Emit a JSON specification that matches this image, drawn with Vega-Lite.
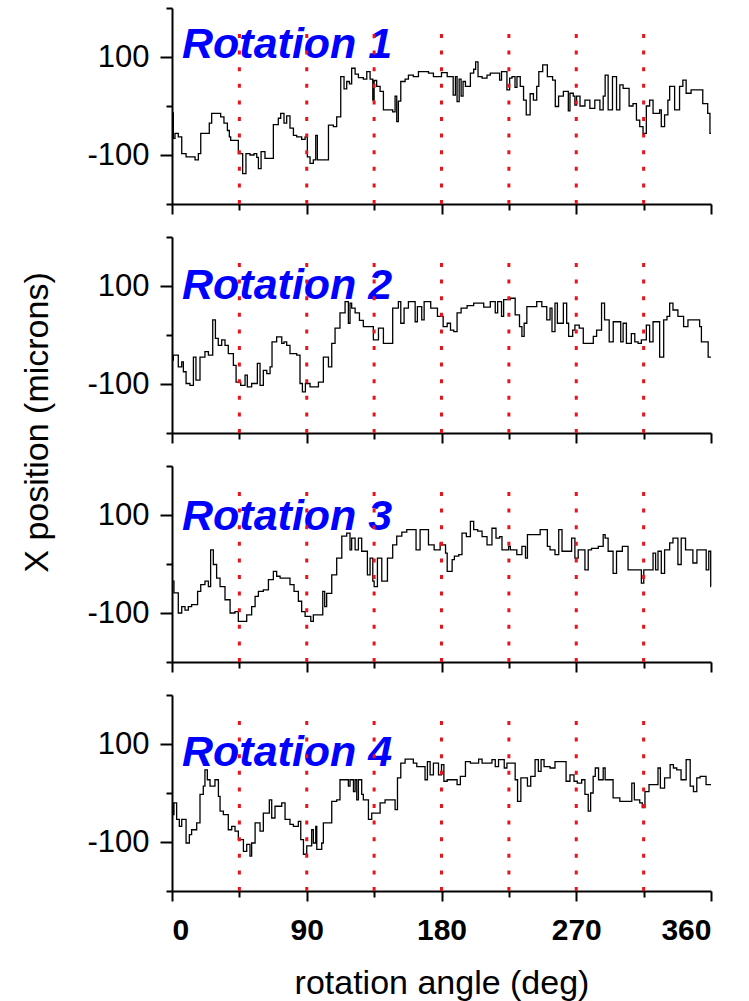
{
"$schema": "https://vega.github.io/schema/vega-lite/v6.json",
"padding": {"left": 19, "top": 7, "right": 5, "bottom": 5},
"spacing": 33,
"bounds": "flush",
"config": {"view": {"stroke": null}, "axis": {"grid": false, "domainColor": "#000", "domainWidth": 2, "tickColor": "#000", "tickWidth": 2, "labelColor": "#000", "titleColor": "#000"}},
"datasets": {
"guides": [{"g":45},{"g":90},{"g":135},{"g":180},{"g":225},{"g":270},{"g":315}],
"trace": [
{"r":1,"a":0,"v":-14},{"r":1,"a":0.9,"v":-66},{"r":1,"a":2,"v":-56},{"r":1,"a":4.2,"v":-63},{"r":1,"a":6.5,"v":-97},{"r":1,"a":9.4,"v":-104},{"r":1,"a":15.4,"v":-110},{"r":1,"a":17.6,"v":-97},{"r":1,"a":19.2,"v":-56},{"r":1,"a":24.9,"v":-35},{"r":1,"a":26.5,"v":-15},{"r":1,"a":32.5,"v":-22},{"r":1,"a":34.7,"v":-35},{"r":1,"a":37,"v":-50},{"r":1,"a":38.3,"v":-63},{"r":1,"a":39.2,"v":-70},{"r":1,"a":44.3,"v":-97},{"r":1,"a":47.2,"v":-138},{"r":1,"a":49.4,"v":-97},{"r":1,"a":52.1,"v":-100},{"r":1,"a":54.8,"v":-97},{"r":1,"a":56.6,"v":-105},{"r":1,"a":57.7,"v":-128},{"r":1,"a":59.5,"v":-93},{"r":1,"a":62.1,"v":-107},{"r":1,"a":67.7,"v":-38},{"r":1,"a":71,"v":-25},{"r":1,"a":72.6,"v":-15},{"r":1,"a":74.8,"v":-35},{"r":1,"a":76.6,"v":-20},{"r":1,"a":78.8,"v":-45},{"r":1,"a":81.1,"v":-60},{"r":1,"a":83.3,"v":-63},{"r":1,"a":86.6,"v":-68},{"r":1,"a":88.9,"v":-63},{"r":1,"a":90.4,"v":-104},{"r":1,"a":92.2,"v":-117},{"r":1,"a":94.4,"v":-110},{"r":1,"a":96,"v":-60},{"r":1,"a":97.1,"v":-110},{"r":1,"a":104.5,"v":-39},{"r":1,"a":107.8,"v":-42},{"r":1,"a":110,"v":-22},{"r":1,"a":112.7,"v":60},{"r":1,"a":114.9,"v":35},{"r":1,"a":116.7,"v":50},{"r":1,"a":118.5,"v":45},{"r":1,"a":120,"v":77},{"r":1,"a":122.3,"v":65},{"r":1,"a":124.5,"v":58},{"r":1,"a":127.8,"v":55},{"r":1,"a":130.1,"v":70},{"r":1,"a":132.3,"v":55},{"r":1,"a":134.1,"v":12},{"r":1,"a":135,"v":52},{"r":1,"a":136.7,"v":40},{"r":1,"a":139,"v":30},{"r":1,"a":141.2,"v":-8},{"r":1,"a":147.4,"v":-12},{"r":1,"a":149,"v":20},{"r":1,"a":150.1,"v":-32},{"r":1,"a":151.2,"v":10},{"r":1,"a":152.8,"v":50},{"r":1,"a":155.7,"v":55},{"r":1,"a":157.9,"v":63},{"r":1,"a":161.2,"v":60},{"r":1,"a":164.6,"v":70},{"r":1,"a":171.3,"v":67},{"r":1,"a":174.6,"v":60},
{"r":1,"a":180,"v":68},{"r":1,"a":183.8,"v":60},{"r":1,"a":187.8,"v":22},{"r":1,"a":189.3,"v":60},{"r":1,"a":190.4,"v":9},{"r":1,"a":191.8,"v":55},{"r":1,"a":193.1,"v":20},{"r":1,"a":194.4,"v":50},{"r":1,"a":196,"v":40},{"r":1,"a":199.3,"v":67},{"r":1,"a":201.5,"v":75},{"r":1,"a":202.8,"v":90},{"r":1,"a":204.4,"v":60},{"r":1,"a":207.1,"v":57},{"r":1,"a":210.4,"v":63},{"r":1,"a":212.6,"v":67},{"r":1,"a":218.8,"v":53},{"r":1,"a":220.1,"v":70},{"r":1,"a":223.7,"v":33},{"r":1,"a":225.5,"v":57},{"r":1,"a":227.1,"v":60},{"r":1,"a":229.1,"v":38},{"r":1,"a":230.4,"v":60},{"r":1,"a":232.6,"v":40},{"r":1,"a":234.8,"v":12},{"r":1,"a":236.6,"v":-18},{"r":1,"a":239.2,"v":25},{"r":1,"a":241.4,"v":12},{"r":1,"a":243.6,"v":40},{"r":1,"a":245,"v":70},{"r":1,"a":247.6,"v":84},{"r":1,"a":250.7,"v":60},{"r":1,"a":254.2,"v":53},{"r":1,"a":256,"v":-1},{"r":1,"a":258.2,"v":20},{"r":1,"a":261.4,"v":30},{"r":1,"a":264.7,"v":-10},{"r":1,"a":265.8,"v":26},{"r":1,"a":268,"v":20},{"r":1,"a":269.1,"v":2},{"r":1,"a":270.2,"v":20},{"r":1,"a":272.5,"v":0},{"r":1,"a":275.8,"v":12},{"r":1,"a":279.1,"v":-5},{"r":1,"a":282.4,"v":12},{"r":1,"a":285.8,"v":-8},{"r":1,"a":288,"v":20},{"r":1,"a":289.3,"v":63},{"r":1,"a":291.3,"v":-8},{"r":1,"a":294.2,"v":60},{"r":1,"a":296.9,"v":-8},{"r":1,"a":299.1,"v":43},{"r":1,"a":301.3,"v":36},{"r":1,"a":305.3,"v":0},{"r":1,"a":307.9,"v":5},{"r":1,"a":310.2,"v":-29},{"r":1,"a":312.4,"v":-42},{"r":1,"a":314.6,"v":-56},{"r":1,"a":316.8,"v":0},{"r":1,"a":319,"v":12},{"r":1,"a":321.3,"v":-15},{"r":1,"a":325.7,"v":-8},{"r":1,"a":326.8,"v":-42},{"r":1,"a":329,"v":-18},{"r":1,"a":331.2,"v":12},{"r":1,"a":332.4,"v":40},{"r":1,"a":335.7,"v":-8},{"r":1,"a":339,"v":40},{"r":1,"a":341.2,"v":53},{"r":1,"a":343.4,"v":26},{"r":1,"a":346.7,"v":33},{"r":1,"a":354.5,"v":5},{"r":1,"a":357.8,"v":-15},{"r":1,"a":359.3,"v":-56},{"r":1,"a":360,"v":-56},
{"r":2,"a":0,"v":-51},{"r":2,"a":0.9,"v":-41},{"r":2,"a":4.2,"v":-65},{"r":2,"a":6.5,"v":-55},{"r":2,"a":7.6,"v":-75},{"r":2,"a":9.4,"v":-99},{"r":2,"a":12,"v":-103},{"r":2,"a":14.3,"v":-45},{"r":2,"a":16,"v":-92},{"r":2,"a":18.7,"v":-45},{"r":2,"a":22,"v":-34},{"r":2,"a":24.3,"v":-41},{"r":2,"a":27.2,"v":31},{"r":2,"a":29,"v":-7},{"r":2,"a":30.9,"v":-21},{"r":2,"a":33.2,"v":-10},{"r":2,"a":35.4,"v":-21},{"r":2,"a":37.6,"v":-38},{"r":2,"a":41,"v":-62},{"r":2,"a":42.8,"v":-96},{"r":2,"a":45.9,"v":-103},{"r":2,"a":48.8,"v":-82},{"r":2,"a":50.3,"v":-106},{"r":2,"a":53.2,"v":-99},{"r":2,"a":57,"v":-58},{"r":2,"a":58.8,"v":-103},{"r":2,"a":61,"v":-72},{"r":2,"a":63.3,"v":-79},{"r":2,"a":65.5,"v":-65},{"r":2,"a":66.8,"v":-14},{"r":2,"a":69.9,"v":-4},{"r":2,"a":73.3,"v":-17},{"r":2,"a":74.8,"v":-14},{"r":2,"a":76.6,"v":-21},{"r":2,"a":78.8,"v":-38},{"r":2,"a":83.3,"v":-41},{"r":2,"a":85.5,"v":-99},{"r":2,"a":87.1,"v":-116},{"r":2,"a":89.1,"v":-99},{"r":2,"a":92.2,"v":-106},{"r":2,"a":97.8,"v":-96},{"r":2,"a":101.1,"v":-45},{"r":2,"a":104.5,"v":-65},{"r":2,"a":106.7,"v":-17},{"r":2,"a":108.9,"v":14},{"r":2,"a":112.2,"v":45},{"r":2,"a":115.6,"v":68},{"r":2,"a":117.8,"v":24},{"r":2,"a":118.9,"v":65},{"r":2,"a":120,"v":55},{"r":2,"a":122.3,"v":45},{"r":2,"a":125.2,"v":30},{"r":2,"a":127.8,"v":17},{"r":2,"a":134.5,"v":-10},{"r":2,"a":137.9,"v":14},{"r":2,"a":141.2,"v":-17},{"r":2,"a":147.4,"v":55},{"r":2,"a":151.2,"v":68},{"r":2,"a":152.8,"v":24},{"r":2,"a":155,"v":55},{"r":2,"a":157.9,"v":68},{"r":2,"a":162.4,"v":27},{"r":2,"a":163.9,"v":58},{"r":2,"a":166.8,"v":31},{"r":2,"a":168.4,"v":68},{"r":2,"a":172.8,"v":55},{"r":2,"a":177.3,"v":38},
{"r":2,"a":180,"v":38},{"r":2,"a":181.1,"v":17},{"r":2,"a":183.8,"v":24},{"r":2,"a":186,"v":10},{"r":2,"a":188.2,"v":7},{"r":2,"a":190.4,"v":45},{"r":2,"a":193.1,"v":55},{"r":2,"a":197.1,"v":60},{"r":2,"a":201.5,"v":65},{"r":2,"a":208.2,"v":57},{"r":2,"a":212.6,"v":68},{"r":2,"a":215.9,"v":45},{"r":2,"a":217.5,"v":68},{"r":2,"a":220.1,"v":38},{"r":2,"a":221.5,"v":72},{"r":2,"a":225.9,"v":75},{"r":2,"a":229.2,"v":41},{"r":2,"a":232.1,"v":17},{"r":2,"a":233.7,"v":-3},{"r":2,"a":235.2,"v":24},{"r":2,"a":237,"v":58},{"r":2,"a":243.6,"v":68},{"r":2,"a":247,"v":58},{"r":2,"a":250.3,"v":31},{"r":2,"a":252.5,"v":55},{"r":2,"a":253.8,"v":7},{"r":2,"a":255.8,"v":65},{"r":2,"a":257.4,"v":24},{"r":2,"a":261.4,"v":65},{"r":2,"a":263.6,"v":24},{"r":2,"a":264.9,"v":-3},{"r":2,"a":267.6,"v":10},{"r":2,"a":269.1,"v":20},{"r":2,"a":272,"v":14},{"r":2,"a":274.7,"v":-17},{"r":2,"a":281.4,"v":-3},{"r":2,"a":283.6,"v":10},{"r":2,"a":286.9,"v":65},{"r":2,"a":288.9,"v":31},{"r":2,"a":292,"v":-14},{"r":2,"a":294.7,"v":27},{"r":2,"a":299.7,"v":-14},{"r":2,"a":301.3,"v":24},{"r":2,"a":303.5,"v":-17},{"r":2,"a":306.8,"v":3},{"r":2,"a":309.1,"v":-14},{"r":2,"a":311.3,"v":-17},{"r":2,"a":313.5,"v":-10},{"r":2,"a":316.8,"v":20},{"r":2,"a":319,"v":-14},{"r":2,"a":321.3,"v":27},{"r":2,"a":325.7,"v":-45},{"r":2,"a":328.4,"v":31},{"r":2,"a":330.6,"v":38},{"r":2,"a":332.4,"v":65},{"r":2,"a":334.6,"v":51},{"r":2,"a":337.9,"v":38},{"r":2,"a":341.7,"v":17},{"r":2,"a":344.6,"v":31},{"r":2,"a":352.4,"v":17},{"r":2,"a":353.6,"v":-14},{"r":2,"a":358.1,"v":-45},{"r":2,"a":360,"v":-45},
{"r":3,"a":0,"v":-35},{"r":3,"a":1.3,"v":-59},{"r":3,"a":4.2,"v":-100},{"r":3,"a":6.5,"v":-87},{"r":3,"a":8.7,"v":-94},{"r":3,"a":10.9,"v":-87},{"r":3,"a":13.1,"v":-83},{"r":3,"a":17.1,"v":-56},{"r":3,"a":19.2,"v":-42},{"r":3,"a":22,"v":-35},{"r":3,"a":24.3,"v":-46},{"r":3,"a":25.8,"v":29},{"r":3,"a":27.6,"v":-1},{"r":3,"a":29.8,"v":-29},{"r":3,"a":32.1,"v":-46},{"r":3,"a":35.4,"v":-73},{"r":3,"a":38.8,"v":-100},{"r":3,"a":42.1,"v":-97},{"r":3,"a":44.3,"v":-117},{"r":3,"a":49.9,"v":-104},{"r":3,"a":53.2,"v":-87},{"r":3,"a":55.5,"v":-66},{"r":3,"a":57.7,"v":-56},{"r":3,"a":61,"v":-53},{"r":3,"a":64.4,"v":-32},{"r":3,"a":67.7,"v":-15},{"r":3,"a":69.9,"v":-25},{"r":3,"a":72.2,"v":-29},{"r":3,"a":78.8,"v":-42},{"r":3,"a":81.5,"v":-56},{"r":3,"a":84.4,"v":-76},{"r":3,"a":86.6,"v":-97},{"r":3,"a":88.9,"v":-107},{"r":3,"a":92.7,"v":-117},{"r":3,"a":94.4,"v":-104},{"r":3,"a":100.7,"v":-56},{"r":3,"a":102,"v":-87},{"r":3,"a":103.3,"v":-60},{"r":3,"a":106.7,"v":-22},{"r":3,"a":110,"v":12},{"r":3,"a":113.4,"v":57},{"r":3,"a":116.7,"v":63},{"r":3,"a":118.9,"v":29},{"r":3,"a":120,"v":53},{"r":3,"a":122.3,"v":29},{"r":3,"a":124.5,"v":53},{"r":3,"a":126.7,"v":26},{"r":3,"a":130.5,"v":-22},{"r":3,"a":132.3,"v":12},{"r":3,"a":134.1,"v":-35},{"r":3,"a":135,"v":-46},{"r":3,"a":137.2,"v":12},{"r":3,"a":140.1,"v":-35},{"r":3,"a":143.9,"v":12},{"r":3,"a":147.4,"v":39},{"r":3,"a":150.1,"v":57},{"r":3,"a":153.5,"v":65},{"r":3,"a":156.8,"v":70},{"r":3,"a":163,"v":29},{"r":3,"a":165.7,"v":70},{"r":3,"a":171.3,"v":39},{"r":3,"a":175.1,"v":29},{"r":3,"a":179.1,"v":43},
{"r":3,"a":180,"v":39},{"r":3,"a":182.7,"v":22},{"r":3,"a":183.8,"v":-15},{"r":3,"a":187.1,"v":9},{"r":3,"a":188.6,"v":16},{"r":3,"a":191.5,"v":19},{"r":3,"a":193.7,"v":63},{"r":3,"a":196.6,"v":56},{"r":3,"a":199.3,"v":87},{"r":3,"a":201.5,"v":70},{"r":3,"a":204.2,"v":67},{"r":3,"a":207.1,"v":56},{"r":3,"a":210.4,"v":39},{"r":3,"a":213.7,"v":73},{"r":3,"a":216.4,"v":53},{"r":3,"a":218.8,"v":56},{"r":3,"a":220.4,"v":29},{"r":3,"a":224.8,"v":36},{"r":3,"a":226,"v":29},{"r":3,"a":230.3,"v":19},{"r":3,"a":233.7,"v":36},{"r":3,"a":236.1,"v":12},{"r":3,"a":237.4,"v":60},{"r":3,"a":245.9,"v":70},{"r":3,"a":250.7,"v":36},{"r":3,"a":252.5,"v":29},{"r":3,"a":255.8,"v":19},{"r":3,"a":258.3,"v":70},{"r":3,"a":260.5,"v":26},{"r":3,"a":266.9,"v":53},{"r":3,"a":269.1,"v":12},{"r":3,"a":271.3,"v":29},{"r":3,"a":275.8,"v":-12},{"r":3,"a":278,"v":29},{"r":3,"a":280.2,"v":32},{"r":3,"a":284.7,"v":36},{"r":3,"a":288,"v":60},{"r":3,"a":289.3,"v":53},{"r":3,"a":291.3,"v":26},{"r":3,"a":294.6,"v":-19},{"r":3,"a":296.9,"v":26},{"r":3,"a":300.8,"v":36},{"r":3,"a":304.6,"v":-12},{"r":3,"a":313.5,"v":-39},{"r":3,"a":315.1,"v":-12},{"r":3,"a":321.3,"v":22},{"r":3,"a":323,"v":-12},{"r":3,"a":324.6,"v":26},{"r":3,"a":326.8,"v":-19},{"r":3,"a":329,"v":29},{"r":3,"a":332.4,"v":43},{"r":3,"a":334.6,"v":53},{"r":3,"a":337.9,"v":-1},{"r":3,"a":340.1,"v":53},{"r":3,"a":343,"v":29},{"r":3,"a":347.9,"v":2},{"r":3,"a":350.6,"v":29},{"r":3,"a":356.8,"v":-12},{"r":3,"a":358.5,"v":26},{"r":3,"a":359.8,"v":-46},{"r":3,"a":360,"v":-46},
{"r":4,"a":0,"v":-20},{"r":4,"a":0.4,"v":-44},{"r":4,"a":1.3,"v":-20},{"r":4,"a":3.1,"v":-54},{"r":4,"a":4.9,"v":-68},{"r":4,"a":6.5,"v":-54},{"r":4,"a":9.4,"v":-102},{"r":4,"a":11.6,"v":-85},{"r":4,"a":13.1,"v":-75},{"r":4,"a":16.5,"v":-61},{"r":4,"a":18.7,"v":-3},{"r":4,"a":20.9,"v":14},{"r":4,"a":22,"v":47},{"r":4,"a":23.6,"v":27},{"r":4,"a":25.4,"v":14},{"r":4,"a":28.7,"v":27},{"r":4,"a":31,"v":-7},{"r":4,"a":32.1,"v":-37},{"r":4,"a":34.3,"v":-44},{"r":4,"a":37.6,"v":-75},{"r":4,"a":39.9,"v":-68},{"r":4,"a":42.1,"v":-78},{"r":4,"a":44.3,"v":-95},{"r":4,"a":47.7,"v":-119},{"r":4,"a":49.9,"v":-105},{"r":4,"a":52.1,"v":-129},{"r":4,"a":53.2,"v":-102},{"r":4,"a":55.5,"v":-61},{"r":4,"a":58.8,"v":-78},{"r":4,"a":61,"v":-41},{"r":4,"a":65,"v":-14},{"r":4,"a":66.6,"v":-51},{"r":4,"a":68.8,"v":-27},{"r":4,"a":73.3,"v":-20},{"r":4,"a":75.5,"v":-54},{"r":4,"a":78.8,"v":-64},{"r":4,"a":81.1,"v":-68},{"r":4,"a":84.4,"v":-58},{"r":4,"a":86,"v":-95},{"r":4,"a":87.8,"v":-125},{"r":4,"a":90,"v":-108},{"r":4,"a":93.3,"v":-75},{"r":4,"a":94.4,"v":-102},{"r":4,"a":96,"v":-68},{"r":4,"a":96.7,"v":-115},{"r":4,"a":100,"v":-102},{"r":4,"a":101.1,"v":-61},{"r":4,"a":106.7,"v":-17},{"r":4,"a":110,"v":-14},{"r":4,"a":112.2,"v":27},{"r":4,"a":117.8,"v":14},{"r":4,"a":118.9,"v":27},{"r":4,"a":121.2,"v":3},{"r":4,"a":122.3,"v":27},{"r":4,"a":123.4,"v":-14},{"r":4,"a":124.5,"v":27},{"r":4,"a":126.7,"v":-3},{"r":4,"a":127.8,"v":-14},{"r":4,"a":131.2,"v":-54},{"r":4,"a":133.4,"v":-41},{"r":4,"a":139,"v":-20},{"r":4,"a":142.3,"v":-14},{"r":4,"a":149,"v":-34},{"r":4,"a":150.6,"v":31},{"r":4,"a":152.8,"v":61},{"r":4,"a":155.7,"v":69},{"r":4,"a":161.2,"v":61},{"r":4,"a":163.5,"v":54},{"r":4,"a":169,"v":27},{"r":4,"a":170.6,"v":64},{"r":4,"a":172.4,"v":37},{"r":4,"a":174.6,"v":61},{"r":4,"a":178,"v":37},
{"r":4,"a":180,"v":58},{"r":4,"a":181.6,"v":24},{"r":4,"a":183.8,"v":27},{"r":4,"a":190.4,"v":17},{"r":4,"a":192.6,"v":34},{"r":4,"a":196,"v":64},{"r":4,"a":199.3,"v":61},{"r":4,"a":204.8,"v":69},{"r":4,"a":207.1,"v":61},{"r":4,"a":213.7,"v":68},{"r":4,"a":215.9,"v":54},{"r":4,"a":218.1,"v":68},{"r":4,"a":221.9,"v":51},{"r":4,"a":223.7,"v":61},{"r":4,"a":229.2,"v":27},{"r":4,"a":230.8,"v":-17},{"r":4,"a":233,"v":31},{"r":4,"a":237.4,"v":14},{"r":4,"a":239.6,"v":34},{"r":4,"a":242.5,"v":68},{"r":4,"a":244.7,"v":44},{"r":4,"a":246.5,"v":68},{"r":4,"a":248.5,"v":54},{"r":4,"a":252.5,"v":51},{"r":4,"a":255.8,"v":64},{"r":4,"a":263.2,"v":24},{"r":4,"a":265.8,"v":37},{"r":4,"a":268.5,"v":24},{"r":4,"a":270.7,"v":20},{"r":4,"a":273.6,"v":27},{"r":4,"a":275.8,"v":-3},{"r":4,"a":278,"v":-37},{"r":4,"a":279.6,"v":0},{"r":4,"a":281.3,"v":34},{"r":4,"a":282.7,"v":51},{"r":4,"a":284.9,"v":27},{"r":4,"a":288,"v":51},{"r":4,"a":289.3,"v":27},{"r":4,"a":294.6,"v":-10},{"r":4,"a":299.1,"v":-17},{"r":4,"a":307.1,"v":20},{"r":4,"a":308.8,"v":-14},{"r":4,"a":312.4,"v":-20},{"r":4,"a":314.1,"v":-30},{"r":4,"a":315.9,"v":3},{"r":4,"a":318.6,"v":17},{"r":4,"a":324.6,"v":51},{"r":4,"a":326.2,"v":10},{"r":4,"a":329,"v":31},{"r":4,"a":332.7,"v":58},{"r":4,"a":334.9,"v":51},{"r":4,"a":337.1,"v":47},{"r":4,"a":340,"v":27},{"r":4,"a":343.4,"v":68},{"r":4,"a":346.1,"v":14},{"r":4,"a":348.3,"v":3},{"r":4,"a":350.5,"v":31},{"r":4,"a":352.7,"v":34},{"r":4,"a":356.7,"v":17},{"r":4,"a":360,"v":17}
]
},
"vconcat": [
{"width": 539, "height": 196, "layer": [
 {"data": {"name": "trace"}, "transform": [{"filter": "datum.r == 1"}], "mark": {"type": "line", "interpolate": "step-after", "color": "#000", "strokeWidth": 1.3},
  "encoding": {
   "x": {"field": "a", "type": "quantitative", "scale": {"domain": [0, 360], "nice": false}, "axis": {"title": null, "values": [0,45,90,135,180,225,270,315,360], "labels": false, "tickSize": {"condition": {"test": "datum.value % 90 == 0", "value": 10}, "value": 6}}},
   "y": {"field": "v", "type": "quantitative", "scale": {"domain": [-200, 200], "nice": false}, "axis": {"title": null, "values": [-200,-100,0,100,200], "labelExpr": "datum.value == 100 ? '100' : (datum.value == -100 ? '-100' : '')", "labelFont": "Liberation Sans", "labelFontSize": 31, "labelPadding": 11, "tickSize": {"condition": {"test": "abs(datum.value) == 100", "value": 12}, "value": 6}}}
  }},
 {"data": {"values": [{"t": "Rotation 1"}]}, "mark": {"type": "text", "align": "left", "baseline": "alphabetic", "font": "Liberation Sans", "fontSize": 43, "fontStyle": "italic", "fontWeight": "bold", "color": "#0000ff"},
  "encoding": {"x": {"datum": 6.7}, "y": {"datum": 98}, "text": {"field": "t"}}},
 {"data": {"name": "guides"}, "mark": {"type": "rule", "color": "#e8141c", "strokeWidth": 3, "strokeDash": [4, 12.6]},
  "encoding": {"x": {"field": "g", "type": "quantitative", "title": null}, "y": {"datum": -200}, "y2": {"datum": 172}}}
]},
{"width": 539, "height": 196, "layer": [
 {"data": {"name": "trace"}, "transform": [{"filter": "datum.r == 2"}], "mark": {"type": "line", "interpolate": "step-after", "color": "#000", "strokeWidth": 1.3},
  "encoding": {
   "x": {"field": "a", "type": "quantitative", "scale": {"domain": [0, 360], "nice": false}, "axis": {"title": null, "values": [0,45,90,135,180,225,270,315,360], "labels": false, "tickSize": {"condition": {"test": "datum.value % 90 == 0", "value": 10}, "value": 6}}},
   "y": {"field": "v", "type": "quantitative", "scale": {"domain": [-200, 200], "nice": false}, "axis": {"title": "X position (microns)", "titleFont": "Liberation Sans", "titleFontSize": 34, "titleFontWeight": "normal", "titleX": -135, "titleY": 185, "titleBaseline": "middle", "titleAngle": -90, "values": [-200,-100,0,100,200], "labelExpr": "datum.value == 100 ? '100' : (datum.value == -100 ? '-100' : '')", "labelFont": "Liberation Sans", "labelFontSize": 31, "labelPadding": 11, "tickSize": {"condition": {"test": "abs(datum.value) == 100", "value": 12}, "value": 6}}}
  }},
 {"data": {"values": [{"t": "Rotation 2"}]}, "mark": {"type": "text", "align": "left", "baseline": "alphabetic", "font": "Liberation Sans", "fontSize": 43, "fontStyle": "italic", "fontWeight": "bold", "color": "#0000ff"},
  "encoding": {"x": {"datum": 6.7}, "y": {"datum": 73}, "text": {"field": "t"}}},
 {"data": {"name": "guides"}, "mark": {"type": "rule", "color": "#e8141c", "strokeWidth": 3, "strokeDash": [4, 12.6]},
  "encoding": {"x": {"field": "g", "type": "quantitative", "title": null}, "y": {"datum": -200}, "y2": {"datum": 172}}}
]},
{"width": 539, "height": 196, "layer": [
 {"data": {"name": "trace"}, "transform": [{"filter": "datum.r == 3"}], "mark": {"type": "line", "interpolate": "step-after", "color": "#000", "strokeWidth": 1.3},
  "encoding": {
   "x": {"field": "a", "type": "quantitative", "scale": {"domain": [0, 360], "nice": false}, "axis": {"title": null, "values": [0,45,90,135,180,225,270,315,360], "labels": false, "tickSize": {"condition": {"test": "datum.value % 90 == 0", "value": 10}, "value": 6}}},
   "y": {"field": "v", "type": "quantitative", "scale": {"domain": [-200, 200], "nice": false}, "axis": {"title": null, "values": [-200,-100,0,100,200], "labelExpr": "datum.value == 100 ? '100' : (datum.value == -100 ? '-100' : '')", "labelFont": "Liberation Sans", "labelFontSize": 31, "labelPadding": 11, "tickSize": {"condition": {"test": "abs(datum.value) == 100", "value": 12}, "value": 6}}}
  }},
 {"data": {"values": [{"t": "Rotation 3"}]}, "mark": {"type": "text", "align": "left", "baseline": "alphabetic", "font": "Liberation Sans", "fontSize": 43, "fontStyle": "italic", "fontWeight": "bold", "color": "#0000ff"},
  "encoding": {"x": {"datum": 6.7}, "y": {"datum": 69}, "text": {"field": "t"}}},
 {"data": {"name": "guides"}, "mark": {"type": "rule", "color": "#e8141c", "strokeWidth": 3, "strokeDash": [4, 12.6]},
  "encoding": {"x": {"field": "g", "type": "quantitative", "title": null}, "y": {"datum": -200}, "y2": {"datum": 172}}}
]},
{"width": 539, "height": 196, "layer": [
 {"data": {"name": "trace"}, "transform": [{"filter": "datum.r == 4"}], "mark": {"type": "line", "interpolate": "step-after", "color": "#000", "strokeWidth": 1.3},
  "encoding": {
   "x": {"field": "a", "type": "quantitative", "title": "rotation angle (deg)", "scale": {"domain": [0, 360], "nice": false}, "axis": {"title": "rotation angle (deg)", "titleFont": "Liberation Sans", "titleFontSize": 34, "titleFontWeight": "normal", "titleX": 269.5, "titleY": 92, "titleAlign": "center", "titleBaseline": "middle", "titleAngle": 0, "values": [0,45,90,135,180,225,270,315,360], "labelExpr": "datum.value % 90 == 0 ? datum.label : ''", "labelFont": "Liberation Sans", "labelFontSize": 30, "labelFontWeight": "bold", "labelPadding": 14, "tickSize": {"condition": {"test": "datum.value % 90 == 0", "value": 10}, "value": 6}}},
   "y": {"field": "v", "type": "quantitative", "scale": {"domain": [-200, 200], "nice": false}, "axis": {"title": null, "values": [-200,-100,0,100,200], "labelExpr": "datum.value == 100 ? '100' : (datum.value == -100 ? '-100' : '')", "labelFont": "Liberation Sans", "labelFontSize": 31, "labelPadding": 11, "tickSize": {"condition": {"test": "abs(datum.value) == 100", "value": 12}, "value": 6}}}
  }},
 {"data": {"values": [{"t": "Rotation 4"}]}, "mark": {"type": "text", "align": "left", "baseline": "alphabetic", "font": "Liberation Sans", "fontSize": 43, "fontStyle": "italic", "fontWeight": "bold", "color": "#0000ff"},
  "encoding": {"x": {"datum": 6.7}, "y": {"datum": 55}, "text": {"field": "t"}}},
 {"data": {"name": "guides"}, "mark": {"type": "rule", "color": "#e8141c", "strokeWidth": 3, "strokeDash": [4, 12.6]},
  "encoding": {"x": {"field": "g", "type": "quantitative", "title": "rotation angle (deg)"}, "y": {"datum": -200}, "y2": {"datum": 172}}}
]}
]
}
